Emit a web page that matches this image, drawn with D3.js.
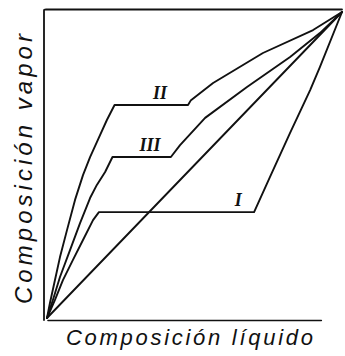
<!DOCTYPE html>
<html>
<head>
<meta charset="utf-8">
<script src="https://cdn.jsdelivr.net/npm/d3@7/dist/d3.min.js"></script>
<style>
  html, body { margin: 0; padding: 0; background: #fff; }
  svg { display: block; }
</style>
</head>
<body>
<svg id="chart" width="345" height="356"></svg>
<script>
// Vapour–liquid equilibrium curves: x = liquid composition, y = vapour composition (mole fraction)
const seriesNames = ["I", "II", "III"];

const curveI_x = [0, 0.027, 0.054, 0.088, 0.122, 0.156, 0.176, 0.702, 0.756, 0.824, 0.892, 0.925, 1];
const curveI_y = [0, 0.059, 0.124, 0.190, 0.255, 0.320, 0.346, 0.346, 0.461, 0.605, 0.745, 0.820, 1];

const curveII_x = [0, 0.010, 0.027, 0.044, 0.068, 0.095, 0.122, 0.146, 0.169, 0.203, 0.229, 0.478, 0.488, 0.563, 0.732, 0.902, 1];
const curveII_y = [0, 0.049, 0.124, 0.199, 0.288, 0.386, 0.467, 0.526, 0.575, 0.647, 0.696, 0.696, 0.712, 0.768, 0.866, 0.941, 1];

const curveIII_x = [0, 0.020, 0.044, 0.078, 0.112, 0.146, 0.169, 0.197, 0.222, 0.420, 0.451, 0.536, 0.678, 0.824, 0.925, 1];
const curveIII_y = [0, 0.059, 0.134, 0.222, 0.310, 0.392, 0.435, 0.477, 0.526, 0.526, 0.565, 0.654, 0.755, 0.853, 0.931, 1];

// y = x reference line
const diagonal_x = [0, 1];
const diagonal_y = [0, 1];

const xTitle = "Composición líquido";
const yTitle = "Composición vapor";

const svg = d3.select("#chart");
const x = d3.scaleLinear().domain([0, 1]).range([47, 342]);
const y = d3.scaleLinear().domain([0, 1]).range([318, 12]);

const ink = "#111";

// frame: left, top and bottom sides only
const frame = svg.append("g")
  .attr("stroke", ink).attr("stroke-width", 1.8).attr("fill", "none")
  .attr("stroke-linecap", "round");
frame.append("path")
  .attr("d", `M${x(0) - 3},${y(0) + 2} L${x(0) - 3},${y(1) - 1.5} Q${x(0) - 3},${y(1) - 2.5} ${x(0) - 1},${y(1) - 2.5} L${x(1)},${y(1) - 2.5}`);
frame.append("line")
  .attr("x1", x(0) + 1).attr("x2", x(0.93))
  .attr("y1", y(0) + 2.5).attr("y2", y(0) + 2.5)
  .attr("stroke-width", 1.6);

const line = d3.line()
  .x(d => x(d[0]))
  .y(d => y(d[1]))
  .curve(d3.curveLinear);

const series = [
  { name: "I",   xs: curveI_x,   ys: curveI_y },
  { name: "II",  xs: curveII_x,  ys: curveII_y },
  { name: "III", xs: curveIII_x, ys: curveIII_y },
  { name: "diag", xs: diagonal_x, ys: diagonal_y }
];

svg.append("g")
  .selectAll("path")
  .data(series)
  .join("path")
  .attr("d", s => line(s.xs.map((v, i) => [v, s.ys[i]])))
  .attr("fill", "none")
  .attr("stroke", ink)
  .attr("stroke-width", 1.9)
  .attr("stroke-linejoin", "round")
  .attr("stroke-linecap", "round");

// curve labels sit just above each plateau
const labelAt = { I: 0.648, II: 0.383, III: 0.349 };
const plateauY = { I: curveI_y[6], II: curveII_y[10], III: curveIII_y[8] };
svg.append("g")
  .selectAll("text")
  .data(seriesNames)
  .join("text")
  .attr("x", n => x(labelAt[n]))
  .attr("y", n => y(plateauY[n]) - 6)
  .attr("text-anchor", "middle")
  .attr("font-family", "'Liberation Serif', 'DejaVu Serif', serif")
  .attr("font-style", "italic")
  .attr("font-weight", "bold")
  .attr("font-size", 18)
  .attr("fill", ink)
  .text(n => n);

// axis titles
svg.append("text")
  .attr("x", 66).attr("y", 345)
  .attr("font-family", "'Liberation Sans', 'DejaVu Sans', sans-serif")
  .attr("font-style", "italic")
  .attr("font-size", 22)
  .attr("textLength", 247)
  .attr("lengthAdjust", "spacing")
  .attr("fill", ink)
  .text(xTitle);

svg.append("text")
  .attr("transform", "translate(32,304) rotate(-90)")
  .attr("font-family", "'Liberation Sans', 'DejaVu Sans', sans-serif")
  .attr("font-style", "italic")
  .attr("font-size", 24)
  .attr("textLength", 270)
  .attr("lengthAdjust", "spacing")
  .attr("fill", ink)
  .text(yTitle);
</script>
</body>
</html>
